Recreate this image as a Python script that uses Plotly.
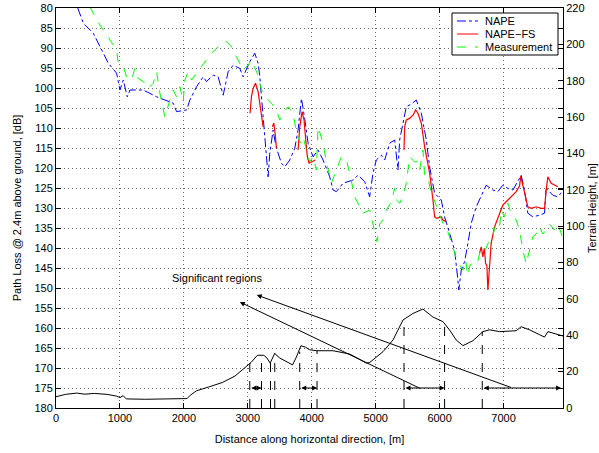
import plotly.graph_objects as go

# ---------------- data ----------------
nape_x = [340, 427, 583, 714, 818, 948, 1000, 1052, 1115, 1156, 1365, 1573, 1755, 1833, 1885, 2042, 2094,
          2198, 2302, 2354, 2458, 2536, 2615, 2693, 2771, 2875, 2927, 3031, 3109, 3161, 3188, 3214, 3240,
          3266, 3292, 3318, 3344, 3396, 3422, 3474, 3526, 3578, 3656, 3734, 3786, 3839, 3891, 3943, 4021,
          4099, 4177, 4281, 4333, 4385, 4490, 4646, 4724, 4828, 4906, 4958, 5010, 5089, 5141, 5219, 5297,
          5349, 5375, 5427, 5479, 5557, 5635, 5714, 5792, 5844, 5896, 5922, 6026, 6078, 6156, 6234, 6286,
          6300, 6339, 6391, 6443, 6495, 6573, 6651, 6729, 6833, 6911, 6989, 7068, 7146, 7224, 7276, 7328,
          7380, 7458, 7563, 7641, 7667, 7693, 7771, 7849, 7917]
nape_y = [80.0, 83.8, 86.3, 90.5, 93.8, 96.3, 100.5, 98.0, 102.2, 100.5, 100.5, 102.2, 103.4, 103.8, 105.9,
          105.5, 103.0, 99.7, 97.2, 98.4, 96.8, 97.2, 101.8, 95.9, 94.3, 95.1, 97.2, 93.4, 91.3, 93.8, 97.2,
          102.2, 106.3, 112.2, 117.2, 122.2, 116.3, 110.5, 113.0, 116.3, 118.8, 119.7, 118.0, 115.1, 110.5,
          102.6, 107.8, 113.8, 117.2, 115.5, 118.0, 122.2, 125.5, 125.9, 123.8, 123.0, 121.8, 123.4, 127.2,
          121.3, 118.0, 116.8, 118.0, 113.8, 113.0, 120.5, 113.0, 108.8, 104.7, 104.0, 103.0, 106.3, 113.0,
          119.7, 124.0, 126.3, 128.0, 132.2, 136.3, 140.5, 148.0, 150.5, 145.5, 143.4, 138.8, 133.8, 129.7,
          127.2, 124.3, 125.5, 125.9, 124.3, 125.1, 125.5, 123.4, 121.8, 125.5, 131.3, 132.2, 131.8, 131.3,
          124.7, 125.5, 126.8, 127.2, 125.9]

# NAPE-FS: separate segments, gaps marked with None
fs_x = [3035, 3057, 3083, 3120, 3161, 3198, 3240, None,
        3385, 3406, 3427, 3448, None,
        3786, 3813, 3849, 3880, 3906, 3932, 3958, 4010, 4055, None,
        5443, 5453, 5479, 5531, 5583, 5625, 5661, 5714, 5766, 5844, 5896, 5922, 5958, 6026, 6052, 6104, None,
        6625, 6651, 6677, 6700, 6719, 6740, 6755, 6781, 6807, 6859, 6911, 6989, 7068, 7146, 7198, 7250,
        7270, 7290, 7339, 7380, 7432, 7510, 7589, 7641, 7667, 7693, 7745, 7797, 7849]
fs_y = [106.3, 102.2, 100.1, 98.8, 100.9, 104.7, 109.7, None,
        109.7, 108.8, 111.3, 115.1, None,
        115.5, 109.7, 105.9, 108.0, 113.0, 117.2, 118.8, 118.4, 118.0, None,
        115.5, 109.7, 108.0, 107.6, 106.8, 105.5, 106.3, 108.8, 114.7, 121.3, 128.0, 132.2, 132.6, 132.2,
        133.0, 133.4, None,
        141.3, 139.7, 142.2, 140.0, 143.8, 144.5, 150.5, 143.0, 138.8, 134.7, 132.6, 129.3, 128.0, 126.8,
        125.9, 124.5, 122.0, 123.5, 127.2, 129.7, 130.1, 129.7, 130.1, 130.1, 125.5, 122.2, 123.8, 124.3,
        124.7]

meas_x = [531, 636, 740, 844, 948, 974, 1052, 1104, 1182, 1234, 1286, 1365, 1443, 1521, 1573, 1625, 1677,
          1703, 1781, 1833, 1885, 1938, 1990, 2016, 2068, 2120, 2198, 2276, 2354, 2432, 2510, 2589, 2667,
          2745, 2823, 2927, 3005, 3057, 3146, 3214, 3292, 3370, 3448, 3500, 3552, 3630, 3708, 3761, 3823,
          3865, 3917, 3969, 4021, 4073, 4099, 4177, 4229, 4307, 4385, 4464, 4542, 4594, 4672, 4698, 4802,
          4906, 4984, 5021, 5063, 5115, 5167, 5245, 5297, 5323, 5375, 5427, 5479, 5531, 5609, 5661, 5688,
          5740, 5766, 5818, 5870, 5896, 5974, 6052, 6104, 6208, 6260, 6313, 6365, 6406, 6443, 6469, 6521,
          6599, 6651, 6719, 6781, 6833, 6885, 6938, 6964, 7016, 7068, 7120, 7198, 7250, 7302, 7354, 7406,
          7458, 7510, 7563, 7615, 7667, 7719, 7797, 7849, 7927]
meas_y = [79.7, 83.0, 85.5, 88.0, 90.5, 93.8, 94.7, 97.2, 98.0, 95.1, 97.6, 98.4, 100.1, 98.8, 95.9, 101.3,
          105.5, 107.2, 103.0, 100.5, 102.2, 99.7, 103.4, 98.0, 95.9, 98.0, 96.3, 94.7, 93.0, 91.3, 90.1,
          88.8, 88.4, 89.7, 92.2, 95.5, 94.3, 93.0, 96.3, 100.5, 102.6, 103.8, 105.5, 108.0, 106.3, 104.7,
          106.3, 111.3, 113.8, 112.2, 115.5, 118.5, 117.2, 120.5, 109.7, 113.8, 118.5, 123.8, 120.5, 117.2,
          118.0, 121.3, 127.2, 128.0, 131.3, 130.5, 135.5, 138.4, 134.0, 133.0, 130.5, 128.5, 125.1, 128.0,
          128.8, 127.2, 123.8, 117.2, 118.5, 118.4, 120.5, 115.5, 122.2, 122.5, 126.3, 127.2, 130.5, 133.8,
          134.7, 139.7, 142.5, 144.2, 145.5, 143.0, 147.0, 144.7, 143.0, 143.2, 139.7, 140.3, 138.0, 136.8,
          133.8, 134.7, 130.5, 132.2, 128.8, 131.3, 133.0, 135.5, 140.5, 144.0, 140.5, 137.2, 136.5, 134.7,
          136.5, 135.5, 134.0, 135.5, 134.0, 137.5]

terrain_x = [0, 150, 323, 450, 600, 800, 950, 1000, 1050, 1100, 1400, 1700, 1950, 2050, 2100, 2200, 2400,
             2600, 2800, 2950, 3050, 3150, 3250, 3300, 3350, 3420, 3500, 3700, 3760, 3830, 3900, 3969, 4073,
             4333, 4594, 4854, 4906, 5115, 5271, 5427, 5583, 5740, 5896, 6052, 6156, 6260, 6365, 6521, 6677,
             6781, 6938, 7198, 7276, 7406, 7641, 7693, 7930]
terrain_h = [6.2, 7.5, 8.2, 7.6, 8.0, 7.5, 6.5, 5.7, 6.8, 5.0, 4.8, 4.8, 4.8, 5.2, 7.0, 9.5, 11.7, 14.0,
             17.6, 22.0, 25.0, 29.0, 29.0, 27.5, 24.7, 30.0, 27.5, 23.7, 28.0, 34.2, 33.5, 32.0, 31.5, 31.5,
             29.7, 24.7, 25.0, 31.0, 37.4, 48.4, 52.0, 54.4, 50.0, 47.5, 42.9, 37.4, 34.3, 37.0, 42.0, 43.0,
             42.0, 42.5, 44.7, 43.0, 39.0, 42.0, 39.6]

# region boundaries (vertical dashed lines) and the terrain height where each starts
bound_x = [3031, 3214, 3355, 3422, 3812, 4083, 5443, 6078, 6667]
bound_top = [25.0, 29.0, 25.5, 30.0, 31.0, 31.5, 48.0, 47.3, 42.0]

# double arrows marking the regions (start, end) at 175 dB
region_start = [3031, 3812, 5443, 6667]
region_end = [3214, 4083, 6078, 7900]
region_level = 175

# pointer lines from the label to the regions: head (x, dB), tail (x, dB)
pointer_head_x = [2875, 3140]
pointer_head_y = [153.5, 151.75]
pointer_tail_x = [5714, 7140]
pointer_tail_y = [175.25, 175.0]

label_text = "Significant regions"
label_x = 2516
label_y = 147.6

legend_names = ["NAPE", "NAPE\u2212FS", "Measurement"]
legend_colors = ["#0000ff", "#ff0000", "#00ff00"]
legend_dashes = ["dashdot", "solid", "dash"]

x_ticks = [0, 1000, 2000, 3000, 4000, 5000, 6000, 7000]
left_ticks = list(range(80, 181, 5))
right_ticks = list(range(0, 221, 20))

FONT = "Liberation Sans, Arial, Helvetica, sans-serif"

# plot-area pixel geometry (for the legend box placement in paper units)
L, R, T, B = 56, 36, 8, 45
PW, PH = 599 - L - R, 453 - T - B


def px(xp):
    return (xp - L) / PW


def py(yp):
    return (453 - B - yp) / PH


fig = go.Figure()
fig.add_trace(go.Scatter(x=nape_x, y=nape_y, mode="lines", name=legend_names[0], showlegend=False,
                         line=dict(color=legend_colors[0], width=1, dash=legend_dashes[0])))
fig.add_trace(go.Scatter(x=fs_x, y=fs_y, mode="lines", name=legend_names[1], connectgaps=False,
                         showlegend=False, line=dict(color=legend_colors[1], width=1.2)))
fig.add_trace(go.Scatter(x=meas_x, y=meas_y, mode="lines", name=legend_names[2], showlegend=False,
                         line=dict(color=legend_colors[2], width=1, dash=legend_dashes[2])))
fig.add_trace(go.Scatter(x=terrain_x, y=terrain_h, mode="lines", yaxis="y2", showlegend=False,
                         line=dict(color="black", width=1)))

shapes = []
for bx, bt in zip(bound_x, bound_top):
    shapes.append(dict(type="line", xref="x", yref="y2", x0=bx, x1=bx, y0=0, y1=bt,
                       line=dict(color="black", width=1, dash="dash")))

annotations = []
for s, e in zip(region_start, region_end):
    annotations.append(dict(x=e, y=region_level, ax=s, ay=region_level, xref="x", yref="y",
                            axref="x", ayref="y", text="", showarrow=True, arrowhead=2,
                            arrowside="end+start", arrowsize=1, arrowwidth=1, arrowcolor="black",
                            standoff=0, startstandoff=0))
for hx, hy, tx, ty in zip(pointer_head_x, pointer_head_y, pointer_tail_x, pointer_tail_y):
    annotations.append(dict(x=hx, y=hy, ax=tx, ay=ty, xref="x", yref="y", axref="x", ayref="y",
                            text="", showarrow=True, arrowhead=2, arrowsize=1, arrowwidth=1,
                            arrowcolor="black", standoff=0))
annotations.append(dict(x=label_x, y=label_y, xref="x", yref="y", text=label_text, showarrow=False,
                        font=dict(family=FONT, size=11, color="black")))
annotations.append(dict(x=px(592), y=0.5, xref="paper", yref="paper", text="Terrain Height, [m]",
                        textangle=-90, showarrow=False, xanchor="center", yanchor="middle",
                        font=dict(family=FONT, size=11, color="black")))

# legend box drawn by hand (to match the compact original box)
shapes.append(dict(type="rect", xref="paper", yref="paper", x0=px(452), x1=px(558), y0=py(55), y1=py(13),
                   line=dict(color="black", width=1), fillcolor="white", layer="above"))
for i, (nm, col, dsh) in enumerate(zip(legend_names, legend_colors, legend_dashes)):
    yy = py(21 + i * 13)
    shapes.append(dict(type="line", xref="paper", yref="paper", x0=px(457), x1=px(478), y0=yy, y1=yy,
                       line=dict(color=col, width=1, dash=dsh), layer="above"))
    annotations.append(dict(x=px(483), y=yy, xref="paper", yref="paper", text=nm, showarrow=False,
                            xanchor="left", yanchor="middle", font=dict(family=FONT, size=11, color="black")))

GRID_DASH = "1px,3px"

fig.update_layout(
    width=599, height=453,
    margin=dict(l=L, r=R, t=T, b=B),
    paper_bgcolor="white", plot_bgcolor="white",
    font=dict(family=FONT, size=11, color="black"),
    showlegend=False,
    xaxis=dict(range=[0, 7930], tickvals=x_ticks, ticks="inside", ticklen=5, tickcolor="black",
               showline=True, linecolor="black", linewidth=1, mirror="ticks", automargin=False,
               showgrid=True, gridcolor="#666666", griddash=GRID_DASH, gridwidth=1, zeroline=False,
               title=dict(text="Distance along horizontal direction, [m]", standoff=12,
                          font=dict(family=FONT, size=11))),
    yaxis=dict(range=[180, 80], tickvals=left_ticks, ticks="inside", ticklen=5, tickcolor="black",
               showline=True, linecolor="black", linewidth=1, mirror="ticks", automargin=False,
               showgrid=True, gridcolor="#666666", griddash=GRID_DASH, gridwidth=1, zeroline=False,
               title=dict(text="Path Loss @ 2.4m above ground, [dB]", standoff=10,
                          font=dict(family=FONT, size=11))),
    yaxis2=dict(range=[0, 220], tickvals=right_ticks, overlaying="y", side="right", ticks="inside",
                ticklen=5, tickcolor="black", showline=True, linecolor="black", linewidth=1,
                showgrid=False, zeroline=False, automargin=False),
    shapes=shapes,
    annotations=annotations,
)

# remove the browser's default page margin so the figure sits at the window origin
fig.write_html("out.html", config={"displayModeBar": False},
               post_script="document.body.style.margin='0';document.body.style.overflow='hidden';")
